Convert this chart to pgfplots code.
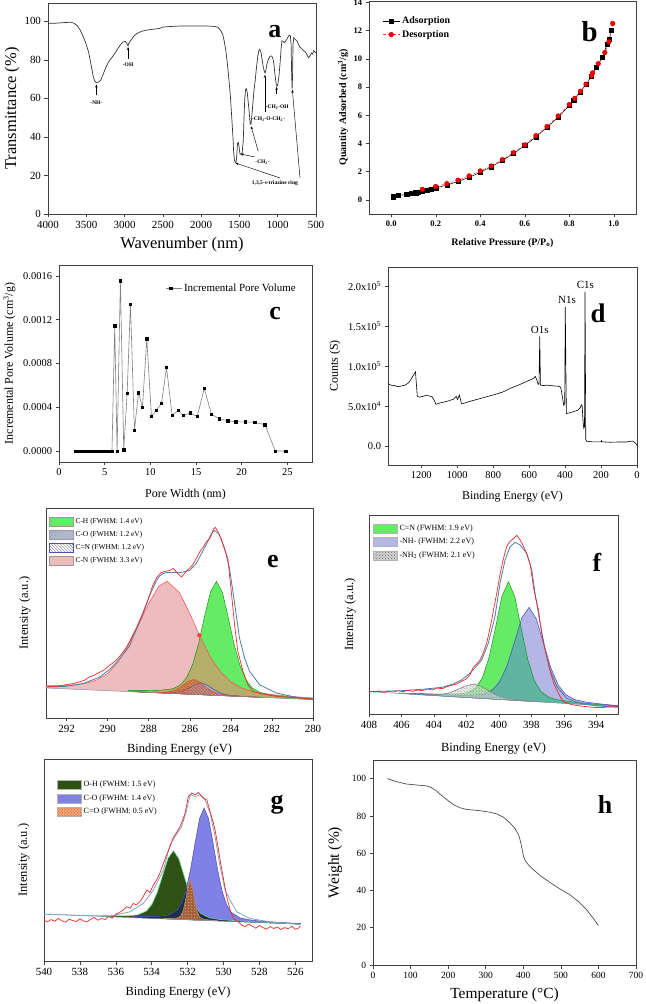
\documentclass[border=0pt]{standalone}
\usepackage{fontspec}
\setmainfont{Liberation Serif}
\usepackage{pgfplots}
\pgfplotsset{compat=1.18}
\usepackage{pgfplotstable}
\usetikzlibrary{patterns,arrows.meta}
\newcommand\fs[1]{\fontsize{#1}{#1}\selectfont}
\definecolor{egreen}{HTML}{66EB66}
\definecolor{epink}{HTML}{ECBCBE}
\definecolor{eolive}{HTML}{B4AE6A}
\definecolor{eco}{HTML}{9AA6CC}
\definecolor{envblue}{HTML}{4A7DA8}
\definecolor{rawred}{HTML}{EE2A2A}
\definecolor{flav}{HTML}{B4B6E6}
\definecolor{fteal}{HTML}{5FB5A2}
\definecolor{gdg}{HTML}{2E5214}
\definecolor{gblue}{HTML}{8080E6}
\definecolor{gnavy}{HTML}{1E3048}
\definecolor{gbrown}{HTML}{A2603E}
\definecolor{gsalmon}{HTML}{E8A482}
\definecolor{basecol}{HTML}{8090A8}

\pgfplotsset{
  panel/.style={
    scale only axis, anchor=south west,
    axis line style={draw=black!75, line width=0.6pt},
    tick style={draw=black!75, line width=0.5pt},
    tick align=outside, tick pos=left,
    major tick length=3.5bp,
    /pgf/number format/assume math mode=true,
    /pgf/number format/1000 sep={},
    tick label style={font=\fs{11}},
    label style={font=\fs{12.5}},
    scaled ticks=false,
  },
  patch/.style={legend image code/.code={\draw[##1] (0bp,-4.5bp) rectangle (24bp,4.5bp);}},
}

% ---------- panel e tables ----------
\pgfplotstableread{
x y
293 90
293 97.4
292.5 97.4
292 98.2
291.5 100.3
291 105.1
290.5 114.9
290 133.9
289.5 167
289 217
288.5 278.9
288 344
287.5 396.1
287.1 410.1
286.5 376.1
286 313.8
285.5 244.3
285 183.5
284.5 138.1
284 108.4
283.5 90.6
283 80.6
282.5 74.3
282 70.3
281.5 67.2
281 64.6
280.5 62.2
280 60.2
280 55
}\eCN
\pgfplotstableread{
x y
289 79.2
289 82
288.15 82.2
287.58 82.9
287 85.8
286.77 89.1
286.43 100.6
286.14 122.3
285.85 162.6
285.56 225.8
285.28 305.2
284.99 378.5
284.7 409.7
284.41 377
284.13 302.1
283.84 221.1
283.55 156.5
283.26 114.6
282.98 91.3
282.63 78
282.4 73.5
281.83 67.4
281.25 63.7
280 57.5
280 55
}\eCH
\pgfplotstableread{
x y
289 79.2
289 82
288.15 82.2
287.58 82.9
287 85.8
286.77 89.1
286.43 100.6
286.14 122.3
285.85 162.6
285.56 225.8
285.49 243
285.28 217.5
284.99 182.3
284.7 156.3
284.41 132.8
284.13 116.1
283.84 102.7
283.55 92.4
283.26 85.8
282.98 80.3
282.63 76
282.4 73.5
281.83 67.4
281.25 63.7
280 57.5
280 55
}\eOV
\pgfplotstableread{
x y
288.8 78.7
288.8 79.2
287.8 77.1
287.3 77
287 78.5
286.7 83.8
286.4 94.7
286.1 108.7
285.8 115.6
285.5 107.1
285.2 91.5
284.9 79
284.6 72.1
284.3 68.9
283.8 66.3
282.8 63
282.8 62.5
}\eCNd
\pgfplotstableread{
x y
288.45 77.75
288.45 78.2
287.45 76
286.95 75.5
286.65 76.6
286.35 80.7
286.05 89.3
285.75 100.3
285.45 105.7
285.15 98.7
284.85 86.1
284.55 75.9
284.25 70.2
283.95 67.5
283.45 65.2
282.45 62
282.45 61.6
}\eCO
\pgfplotstableread{
x y
293 93
292.8 95
292.5 94
292.2 98
292 100
291.7 103
291.4 108
291.1 114
290.9 123
290.7 127
290.4 137
290.2 143
289.9 158
289.6 172
289.4 186
289.1 210
288.9 233
288.6 270
288.3 313
288 360
287.8 398
287.6 422
287.4 436
287.2 440
287 442
286.8 449
286.6 434
286.4 423
286.2 438
286 450
285.85 460
285.65 482
285.5 500
285.35 512
285.2 528
285.05 537
284.95 548
284.85 566
284.76 572
284.6 555
284.45 532
284.3 505
284.15 480
283.98 380
283.82 280
283.66 200
283.41 140
283.17 100
282.93 80
282.6 74
282.28 70
281.9 66
281.46 63
281.1 62
280.65 60
280.3 58
280 57
}\eRAW
\pgfplotstableread{
x y
293 93
292.03 95
291.22 103
290.41 122
289.92 145
289.59 165
288.94 215
288.78 240
288.29 310
287.97 365
287.64 410
287.48 425
287.32 433
287.15 436
286.9 437
286.5 436
286.18 440
286 443
285.69 463
285.37 500
285.12 530
284.95 553
284.8 563
284.55 550
284.31 510
284.07 450
283.9 380
283.74 310
283.58 240
283.33 180
283.09 140
282.6 100
281.79 75
280.81 62
280 55
}\eENV

% ---------- panel f tables ----------
\pgfplotstableread{
x y
405.4 59.4
405.4 62
403.4 59.2
402.4 60.4
401.9 64.6
401.41 78.8
401.01 109.1
400.61 168.6
400.21 258.4
399.81 353.2
399.41 396.8
399.01 350.8
398.61 253.8
398.21 161.6
397.81 99.7
397.41 67
396.91 50
396.41 42.8
395.41 35.8
394.41 30.8
392.66 24.2
392.66 22
}\fCN
\pgfplotstableread{
x y
406.14 61.5
406.14 63.1
404.14 58.5
402.64 56.1
401.64 56.2
400.94 59.8
400.39 71.9
399.94 97.3
399.49 145.2
399.04 215.5
398.59 287.7
398.14 320.1
397.69 285.1
397.24 210.2
396.79 137.3
396.34 86.7
395.89 58.7
395.34 43.4
394.64 35.7
393.64 29.7
392.66 25.2
392.66 22
}\fNH
\pgfplotstableread{
x y
405.4 59.4
405.4 61.4
403.4 57.3
402.4 56.1
401.9 56.2
401.41 57
401.01 59.5
400.61 67
400.21 82
399.81 111
399.41 157.7
399.01 220
398.69 272
398.61 253.8
398.21 161.6
397.81 99.7
397.41 67
396.91 50
396.41 42.8
395.41 35.8
394.41 30.8
392.66 24.2
392.66 22
}\fOV
\pgfplotstableread{
x y
405.54 59.8
405.54 60.5
404.54 58.3
403.54 59
403.04 63.7
402.54 73.3
402.04 84.9
401.54 90
401.04 82
400.54 67.4
400.04 55
399.54 47.3
398.54 40.8
397.54 37
397.54 36.3
}\fNHH
\pgfplotstableread{
x y
408 68
407.7 66
407.4 69
407.1 65
406.8 68
406.5 66
406.2 70
405.9 67
405.6 71
405.3 68
405 72
404.7 70
404.4 75
404.1 72
403.8 78
403.5 76
403.2 82
402.9 86
402.6 90
402.3 98
402 105
401.78 118
401.58 140
401.37 150
401.16 162
400.95 185
400.75 212
400.6 245
400.44 282
400.29 322
400.13 362
399.98 405
399.83 442
399.67 475
399.52 502
399.36 515
399.21 522
399.05 528
398.9 536
398.8 530
398.69 522
398.53 508
398.38 492
398.23 472
398.08 452
397.97 415
397.87 382
397.72 345
397.56 312
397.46 275
397.36 242
397.2 205
397.05 172
396.9 140
396.74 112
396.6 90
396.43 72
396.2 50
396.02 37
395.7 31
395.4 27
395 24
394.58 22
394.2 20
393.75 19
393.3 21
392.66 22
}\fRAW
\pgfplotstableread{
x y
408 67
406 70
404.5 75
403.5 80
402.81 90
402.3 102
401.78 122
401.4 142
401.06 162
400.65 212
400.24 292
399.93 392
399.62 462
399.31 502
399 515
398.69 507
398.28 482
397.97 432
397.77 362
397.46 272
397.15 192
396.84 132
396.43 82
395.81 47
394.99 32
393.96 24
392.66 20
}\fENV

% ---------- panel g tables ----------
\pgfplotstableread{
x y
536.79 133.3
536.79 135.4
535.79 134.8
535.29 135.2
534.79 137.7
534.29 149.3
533.99 169
533.69 204.8
533.39 255.7
533.09 306.9
532.79 329.9
532.49 305.6
532.19 253.2
531.89 201.1
531.59 164
531.29 143
530.79 129.3
530.29 124.7
529.79 122.2
528.79 118.6
527.79 115.8
525.72 111
525.72 110
}\gOH
\pgfplotstableread{
x y
535.08 129.7
535.08 132.7
534.58 132.5
534.08 132.8
533.58 133.8
533.08 137.3
532.58 152.2
532.33 173.8
532.08 213.7
531.83 275.8
531.58 354.2
531.33 426.5
531.08 457.3
530.83 425.4
530.58 352.1
530.33 272.7
530.08 209.5
529.83 168.5
529.58 145.9
529.08 128.9
528.58 123.3
528.08 120.2
527.58 117.8
527.08 115.9
525.72 112.2
525.72 110
}\gCO
\pgfplotstableread{
x y
535.08 129.7
535.08 132.7
534.58 132.5
534.08 132.8
533.58 133.8
533.08 137.3
532.58 152.2
532.33 173.8
532.08 213.7
532.03 225
531.83 193.7
531.58 164
531.29 143
530.79 129.3
530.29 124.7
529.79 122.2
528.79 118.6
527.79 115.8
525.72 111
525.72 110
}\gOV
\pgfplotstableread{
x y
533.36 126.1
533.36 127.1
532.86 127.1
532.61 128.2
532.485 130.2
532.36 136.3
532.235 152.2
532.11 182.9
531.985 221.7
531.86 241.9
531.735 221.2
531.61 181.8
531.485 150.6
531.36 134.2
531.235 127.5
531.11 125
530.86 122.8
530.36 120.7
530.36 119.7
}\gCOd
\pgfplotstableread{
x y
540 122
539.8 117
539.6 124
539.4 119
539.2 127
539 120
538.8 116
538.6 125
538.4 121
538.2 118
538 126
537.8 120
537.6 117
537.4 125
537.2 130
537 122
536.8 127
536.6 124
536.4 133
536.2 128
536 140
535.8 145
535.6 152
535.4 162
535.2 158
535.03 172
534.85 168
534.66 177
534.5 190
534.28 212
534.1 205
533.91 227
533.73 242
533.55 262
533.35 292
533.15 320
532.98 342
532.79 370
532.6 385
532.42 402
532.28 420
532.14 442
531.96 492
531.77 502
531.58 497
531.4 504
531.21 492
531.05 485
530.93 482
530.75 447
530.6 420
530.47 392
530.33 350
530.19 302
530 245
529.82 192
529.63 152
529.44 127
529.3 122
529.16 117
528.98 107
528.8 103
528.6 110
528.4 104
528.2 98
528 106
527.8 100
527.6 95
527.4 103
527.2 97
527 102
526.8 94
526.6 100
526.4 96
526.2 104
526 95
525.8 99
525.72 105
}\gRAW
\pgfplotstableread{
x y
540 140
536.33 134
535.22 147
534.47 172
533.91 212
533.35 272
532.98 347
532.7 372
532.33 402
532.05 452
531.86 497
531.58 492
531.31 497
531.03 482
530.75 442
530.47 372
530.19 282
529.91 212
529.63 182
529.26 147
528.51 127
527.4 117
525.72 109
}\gENV

\begin{document}
\begin{tikzpicture}[x=1bp,y=1bp]
\useasboundingbox (0,0) rectangle (646,1004);

% ================= a =================
\begin{axis}[panel, at={(48bp,790bp)}, width=268bp, height=211bp,
  x dir=reverse, xmin=500, xmax=4000, ymin=0, ymax=109.5,
  xtick={500,1000,1500,2000,2500,3000,3500,4000}, ytick={0,20,40,60,80,100},
  xlabel={Wavenumber (nm)}, ylabel={Transmittance (\%)},
  label style={font=\fs{16.5}},
  xlabel style={at={(axis description cs:0.5,-0.147)}, anchor=center},
  ylabel style={at={(axis description cs:-0.134,0.5)}, anchor=center}]
\addplot[black!80, line width=0.7pt] coordinates {
(4000,98.9) (3900,99.0) (3800,99.3) (3700,99.5) (3660,99.0) (3620,97.8) (3580,95.5)
(3540,92.0) (3500,88.0) (3470,84.0) (3440,78.0) (3410,71.5) (3390,69.0) (3370,68.2)
(3340,68.4) (3310,69.5) (3280,72.5) (3240,76.5) (3200,79.5) (3150,82.0) (3100,85.0)
(3060,87.5) (3020,89.3) (2990,89.5) (2970,88.5) (2955,87.2) (2945,88.5) (2920,90.0)
(2880,92.2) (2840,93.6) (2780,94.8) (2700,95.5) (2600,96.0) (2540,96.3) (2500,97.0)
(2400,97.3) (2300,97.5) (2200,97.6) (2100,97.6) (2000,97.6) (1900,97.5) (1820,97.3)
(1780,96.8) (1750,95.5) (1720,93.5) (1700,90.0) (1680,85.5) (1660,79.0) (1640,71.0)
(1620,62.0) (1600,50.0) (1585,40.0) (1575,32.0) (1565,28.0) (1555,26.8) (1545,26.5)
(1535,30.0) (1525,36.5) (1515,37.2) (1505,35.0) (1495,31.5) (1480,31.0) (1465,31.5)
(1450,38.0) (1440,50.0) (1430,60.0) (1420,64.5) (1410,65.0) (1400,63.5) (1390,60.0)
(1375,54.0) (1360,47.0) (1350,46.5) (1340,50.0) (1325,57.0) (1310,64.0) (1295,69.0)
(1280,75.0) (1260,82.0) (1245,85.0) (1235,85.5) (1220,84.0) (1205,80.5) (1190,76.5)
(1175,74.0) (1165,73.2) (1155,74.5) (1140,78.0) (1120,80.5) (1100,81.8) (1080,82.0)
(1065,81.0) (1050,78.0) (1035,72.0) (1020,67.5) (1010,66.3) (1000,67.0) (985,71.0)
(970,78.0) (955,86.0) (945,89.8) (930,89.5) (910,89.0) (890,90.0) (870,91.5)
(850,92.8) (835,92.5) (825,88.0) (818,72.0) (812,65.0) (806,72.0) (800,88.0)
(790,91.5) (770,90.5) (750,90.0) (730,88.0) (710,86.5) (690,86.0) (670,85.0)
(650,84.5) (630,83.5) (610,82.0) (595,81.0) (580,82.0) (560,83.5) (545,83.0)
(530,84.8) (515,84.0) (500,83.8)};
\begin{scope}[line width=0.45pt, -{Stealth[length=3bp,width=2.4bp]}]
\draw (axis cs:3368,61.5) -- (axis cs:3368,67.2);
\draw (axis cs:2954,80.5) -- (axis cs:2954,86.6);
\draw (axis cs:1167,53) -- (axis cs:1167,72.2);
\draw (axis cs:1014,62.5) -- (axis cs:1014,66);
\draw (axis cs:1254,32.5) -- (axis cs:1348,45.5);
\draw (axis cs:1300,29.6) -- (axis cs:1485,31.1);
\draw (axis cs:970,18.7) -- (axis cs:1550,26.4);
\draw (axis cs:709,18.7) -- (axis cs:809,64.5);
\end{scope}
\node[font=\fs{5.5}\bfseries] at (axis cs:3368,58) {-NH-};
\node[font=\fs{5.5}\bfseries] at (axis cs:2954,77.4) {-OH};
\node[font=\fs{5.5}\bfseries, anchor=west, inner sep=0.5bp] at (axis cs:1165,55.4) {-CH\textsubscript{2}-OH};
\node[font=\fs{5.5}\bfseries, anchor=west, inner sep=0.5bp] at (axis cs:1345,49.2) {-CH\textsubscript{2}-O-CH\textsubscript{2}-};
\node[font=\fs{5.5}\bfseries, anchor=west, inner sep=0.5bp] at (axis cs:1300,26.8) {-CH\textsubscript{2}-};
\node[font=\fs{5.5}\bfseries, anchor=west, inner sep=0.5bp] at (axis cs:1345,16.1) {1,3,5-s-triazine ring};
\node[font=\bfseries\fs{26}] at (axis cs:1036,94.6) {a};
\end{axis}

% ================= b =================
\begin{axis}[panel, at={(369bp,790bp)}, width=267bp, height=213bp,
  xmin=-0.1, xmax=1.1, ymin=-1, ymax=14.1,
  xtick={0,0.2,0.4,0.6,0.8,1.0}, ytick={0,2,4,6,8,10,12,14},
  xticklabel style={/pgf/number format/.cd, fixed, fixed zerofill, precision=1},
  tick label style={font=\bfseries\fs{8.5}},
  label style={font=\bfseries\fs{10}},
  xlabel={Relative Pressure (P/P\textsubscript{o})},
  ylabel={Quantity Adsorbed (cm\textsuperscript{3}/g)},
  xlabel style={at={(axis description cs:0.5,-0.136)}, anchor=center},
  ylabel style={at={(axis description cs:-0.097,0.5)}, anchor=center},
  legend style={at={(axis description cs:0.05,0.935)}, anchor=north west, draw=none, fill=none,
    font=\bfseries\fs{10}, inner sep=0pt, row sep=1bp},
  legend cell align=left]
\addplot[black, line width=0.5pt, mark=square*, mark size=2.1bp, mark options={solid}] coordinates {
(0.01,0.22) (0.03,0.30) (0.07,0.40) (0.09,0.45) (0.11,0.50) (0.12,0.55) (0.14,0.60)
(0.16,0.68) (0.18,0.75) (0.20,0.85) (0.25,1.05) (0.30,1.30) (0.35,1.60) (0.40,1.95)
(0.45,2.35) (0.50,2.80) (0.55,3.30) (0.60,3.85) (0.65,4.45) (0.70,5.15) (0.75,5.85)
(0.80,6.70) (0.82,7.05) (0.85,7.65) (0.875,8.20) (0.90,8.75) (0.92,9.40) (0.95,10.10)
(0.97,11.05) (0.98,11.40) (0.99,12.05)};
\addlegendentry{Adsorption}
\addplot[red!80!white, line width=0.5pt, densely dashed, mark=*, mark size=2.3bp, mark options={solid, fill=red, draw=red!80!black}] coordinates {
(0.995,12.50) (0.978,11.20) (0.96,10.45) (0.93,9.65) (0.905,9.00) (0.90,8.80) (0.875,8.20)
(0.85,7.70) (0.825,7.20) (0.80,6.75) (0.75,5.95) (0.70,5.20) (0.65,4.55) (0.60,3.90)
(0.55,3.35) (0.50,2.85) (0.45,2.40) (0.40,2.05) (0.35,1.70) (0.30,1.40) (0.25,1.15)
(0.20,0.95) (0.14,0.75)};
\addlegendentry{Desorption}
\node[font=\bfseries\fs{29}] at (axis cs:0.892,11.9) {b};
\end{axis}

% ================= c =================
\begin{axis}[panel, at={(59bp,542bp)}, width=253bp, height=197bp,
  xmin=0, xmax=27.7, ymin=-0.0001, ymax=0.0017,
  xtick={0,5,10,15,20,25}, ytick={0,0.0004,0.0008,0.0012,0.0016},
  yticklabel style={/pgf/number format/.cd, fixed, fixed zerofill, precision=4},
  tick label style={font=\fs{10.5}},
  label style={font=\fs{12}},
  xlabel={Pore Width (nm)}, ylabel={Incremental Pore Volume (cm\textsuperscript{3}/g)},
  xlabel style={at={(axis description cs:0.5,-0.168)}, anchor=center},
  ylabel style={at={(axis description cs:-0.196,0.5)}, anchor=center},
  legend style={at={(axis description cs:0.42,0.915)}, anchor=north west, draw=none, fill=none,
    font=\fs{11}, inner sep=0pt},
  legend image code/.code={\draw[mark repeat=2, mark phase=2, #1] plot coordinates {(0bp,0bp) (5bp,0bp) (16bp,0bp)};}]
\addplot[gray, line width=0.6pt, mark=square*, mark size=1.2bp, mark options={black, solid}] coordinates {
(1.8,0) (2.0,0) (2.2,0) (2.4,0) (2.6,0) (2.8,0) (3.0,0) (3.2,0) (3.4,0) (3.6,0) (3.8,0)
(4.0,0) (4.2,0) (4.4,0) (4.6,0) (4.8,0) (5.0,0) (5.2,0) (5.4,0) (5.6,0) (5.8,0)
(6.1,0.001145) (6.36,0) (6.72,0.001557) (7.09,0.00001) (7.46,0.000525) (7.82,0.001343)
(8.26,0.000189) (8.70,0.000531) (9.14,0.0004) (9.61,0.001026) (10.12,0.000318)
(10.64,0.000372) (11.22,0.000434) (11.77,0.000763) (12.39,0.000327) (13.05,0.00037)
(13.63,0.000324) (14.36,0.000348) (15.13,0.000315) (15.9,0.000571) (16.70,0.000336)
(17.58,0.000293) (18.46,0.000278) (19.37,0.000266) (20.39,0.000266) (21.42,0.000263)
(22.55,0.000241) (23.68,0) (24.85,0)};
\addlegendentry{Incremental Pore Volume}
\node[font=\bfseries\fs{26}] at (axis cs:23.65,0.001258) {c};
\end{axis}

% ================= d =================
\begin{axis}[panel, at={(388bp,539bp)}, width=249bp, height=198bp,
  x dir=reverse, xmin=0, xmax=1385, ymin=-24000, ymax=224000,
  xtick={0,200,400,600,800,1000,1200}, ytick={0,50000,100000,150000,200000},
  yticklabels={0.0, 5.0x10\textsuperscript{4}, 1.0x10\textsuperscript{5}, 1.5x10\textsuperscript{5}, 2.0x10\textsuperscript{5}},
  tick label style={font=\fs{10.5}},
  label style={font=\fs{12}},
  xlabel={Binding Energy (eV)}, ylabel={Counts (S)},
  xlabel style={at={(axis description cs:0.5,-0.16)}, anchor=center},
  ylabel style={at={(axis description cs:-0.213,0.5)}, anchor=center}]
\addplot[black, line width=0.6pt] coordinates {
(1385,78000) (1370,76000) (1350,75500) (1330,74000) (1310,75000) (1290,76000) (1270,79000)
(1255,84000) (1240,90000) (1232,92500) (1228,80000) (1222,62000) (1210,61000) (1190,62000)
(1170,63500) (1150,62000) (1140,61500) (1128,57000) (1118,52000) (1100,53500) (1080,54500)
(1060,55500) (1040,57000) (1020,58500) (1006,62000) (998,58000) (988,63500) (982,58000)
(976,52500) (960,53500) (940,55000) (900,57500) (860,60000) (820,62500) (780,65000)
(740,68000) (700,72500) (660,76000) (620,80000) (590,83000) (575,84500) (566,87000)
(558,83000) (550,77000) (545,77500) (541,137000) (537,76000) (520,75500) (500,76000)
(460,75000) (430,74500) (423,72000) (415,61400) (408,51000) (402,53000) (399,174000)
(393,40500) (370,41500) (356,42600) (330,44500) (315,48000) (310,51500) (305,50000)
(300,30000) (296,22000) (292,24000) (289,193000) (285,8000) (280,5800) (250,5000)
(200,5000) (198,6500) (195,5000) (150,4500) (100,4800) (60,4800) (40,5500) (25,6000)
(15,4500) (5,2500) (0,500)};
\node[font=\fs{11}] at (axis cs:541,145700) {O1s};
\node[font=\fs{11}] at (axis cs:389,182400) {N1s};
\node[font=\fs{11}] at (axis cs:287,202000) {C1s};
\node[font=\bfseries\fs{27}] at (axis cs:217,165700) {d};
\end{axis}

% ================= e =================
\begin{axis}[panel, at={(46bp,286bp)}, width=267bp, height=210bp,
  x dir=reverse, xmin=280, xmax=293, ymin=0, ymax=630,
  xtick={280,282,284,286,288,290,292}, ytick=\empty,
  label style={font=\fs{12.5}},
  xlabel={Binding Energy (eV)}, ylabel={Intensity (a.u.)},
  xlabel style={at={(axis description cs:0.5,-0.152)}, anchor=center},
  ylabel style={at={(axis description cs:-0.079,0.5)}, anchor=center},
  legend style={at={(axis description cs:0.011,0.962)}, anchor=north west, draw=none, fill=none,
    font=\fs{7.5}, inner sep=0pt, row sep=2.5bp},
  legend cell align=left]
\addlegendimage{patch, fill=egreen, draw=black!40}
\addlegendentry{C-H (FWHM: 1.4 eV)}
\addlegendimage{patch, fill=eco, draw=black!40, postaction={pattern=north east lines, pattern color=white!70!gray}}
\addlegendentry{C-O (FWHM: 1.2 eV)}
\addlegendimage{patch, fill=white, draw=blue!40!gray, postaction={pattern=north west lines, pattern color=gray}}
\addlegendentry{C=N (FWHM: 1.2 eV)}
\addlegendimage{patch, fill=epink, draw=black!40}
\addlegendentry{C-N (FWHM: 3.3 eV)}
\addplot[fill=epink, draw=none, forget plot] table {\eCN} -- cycle;
\addplot[fill=egreen, draw=none, forget plot] table {\eCH} -- cycle;
\addplot[fill=eolive, draw=none, forget plot] table {\eOV} -- cycle;
\addplot[green!55!black, line width=0.4pt, forget plot] table {\eCH};
\addplot[red!70!white, line width=0.5pt, forget plot] table {\eCN};
\addplot[fill=eco, fill opacity=0.8, draw=blue!40!gray, line width=0.3pt, postaction={pattern=north east lines, pattern color=gray!60}, forget plot] table {\eCO} -- cycle;
\addplot[fill=none, draw=brown!70!red, line width=0.3pt, postaction={pattern=crosshatch, pattern color=brown!60!red}, forget plot] table {\eCNd} -- cycle;
\addplot[basecol, line width=0.5pt, forget plot] coordinates {(293,90) (280,55)};
\addplot[envblue, line width=0.8pt, forget plot] table {\eENV};
\addplot[rawred, line width=0.7pt, forget plot] table {\eRAW};
\addplot[only marks, mark=*, mark size=2bp, mark options={fill=red!75!white, draw=red!75!white}, forget plot] coordinates {(285.53,248)};
\node[font=\bfseries\fs{26}] at (axis cs:281.95,470) {e};
\end{axis}

% ================= f =================
\begin{axis}[panel, at={(369bp,290bp)}, width=249bp, height=199bp,
  x dir=reverse, xmin=392.66, xmax=408, ymin=0, ymax=597,
  xtick={394,396,398,400,402,404,406,408}, ytick=\empty,
  label style={font=\fs{12.5}},
  xlabel={Binding Energy (eV)}, ylabel={Intensity (a.u.)},
  xlabel style={at={(axis description cs:0.5,-0.171)}, anchor=center},
  ylabel style={at={(axis description cs:-0.076,0.5)}, anchor=center},
  legend style={at={(axis description cs:0.016,0.96)}, anchor=north west, draw=none, fill=none,
    font=\fs{8}, inner sep=0pt, row sep=2.3bp},
  legend cell align=left]
\addlegendimage{patch, fill=egreen, draw=black!30}
\addlegendentry{C=N (FWHM: 1.9 eV)}
\addlegendimage{patch, fill=flav, draw=black!30}
\addlegendentry{-NH- (FWHM: 2.2 eV)}
\addlegendimage{patch, fill=gray!35, draw=black!30, postaction={pattern=crosshatch dots, pattern color=gray!80!black}}
\addlegendentry{-NH\textsubscript{2} (FWHM: 2.1 eV)}
\addplot[fill=egreen, draw=none, forget plot] table {\fCN} -- cycle;
\addplot[fill=flav, draw=none, forget plot] table {\fNH} -- cycle;
\addplot[fill=fteal, draw=none, forget plot] table {\fOV} -- cycle;
\addplot[green!55!black, line width=0.4pt, forget plot] table {\fCN};
\addplot[blue!45!gray, line width=0.5pt, forget plot] table {\fNH};
\addplot[fill=gray!25, fill opacity=0.6, draw=gray, line width=0.3pt, postaction={pattern=crosshatch dots, pattern color=gray!70!black}, forget plot] table {\fNHH} -- cycle;
\addplot[basecol, line width=0.5pt, forget plot] coordinates {(408,67) (392.66,22)};
\addplot[envblue, line width=0.8pt, forget plot] table {\fENV};
\addplot[rawred, line width=0.7pt, forget plot] table {\fRAW};
\node[font=\bfseries\fs{26}] at (axis cs:393.96,454) {f};
\end{axis}

% ================= g =================
\begin{axis}[panel, at={(44bp,43bp)}, width=268bp, height=202bp,
  x dir=reverse, xmin=525.07, xmax=540, ymin=0, ymax=604,
  xtick={526,528,530,532,534,536,538,540}, ytick=\empty,
  label style={font=\fs{12.5}},
  xlabel={Binding Energy (eV)}, ylabel={Intensity (a.u.)},
  xlabel style={at={(axis description cs:0.5,-0.158)}, anchor=center},
  ylabel style={at={(axis description cs:-0.075,0.5)}, anchor=center},
  legend style={at={(axis description cs:0.049,0.9)}, anchor=north west, draw=none, fill=none,
    font=\fs{8}, inner sep=0pt, row sep=2.4bp},
  legend cell align=left]
\addlegendimage{patch, fill=gdg, draw=black!30}
\addlegendentry{O-H (FWHM: 1.5 eV)}
\addlegendimage{patch, fill=gblue, draw=black!30}
\addlegendentry{C-O (FWHM: 1.4 eV)}
\addlegendimage{patch, fill=gsalmon, draw=black!30, postaction={pattern=crosshatch dots, pattern color=orange!70!red}}
\addlegendentry{C=O (FWHM: 0.5 eV)}
\addplot[fill=gdg, draw=none, forget plot] table {\gOH} -- cycle;
\addplot[fill=gblue, draw=none, forget plot] table {\gCO} -- cycle;
\addplot[fill=gnavy, draw=none, forget plot] table {\gOV} -- cycle;
\addplot[teal!50!green!60!white, line width=0.6pt, forget plot] table {\gOH};
\addplot[blue!40!gray, line width=0.5pt, forget plot] table {\gCO};
\addplot[fill=gbrown, draw=gbrown!70!white, line width=0.3pt, postaction={pattern=dots, pattern color=orange!60!white}, forget plot] table {\gCOd} -- cycle;
\addplot[basecol, line width=0.5pt, forget plot] coordinates {(540,140) (525.72,110)};
\addplot[envblue!70!white, line width=0.8pt, forget plot] table {\gENV};
\addplot[rawred, line width=0.7pt, forget plot] table {\gRAW};
\node[font=\bfseries\fs{26}] at (axis cs:527.02,467) {g};
\end{axis}

% ================= h =================
\begin{axis}[panel, at={(373bp,39bp)}, width=263bp, height=205bp,
  xmin=0, xmax=700, ymin=0, ymax=110,
  xtick={0,100,200,300,400,500,600,700}, ytick={0,20,40,60,80,100},
  tick label style={font=\fs{9.5}},
  label style={font=\fs{15.5}},
  xlabel={Temperature (°C)}, ylabel={Weight (\%)},
  xlabel style={at={(axis description cs:0.5,-0.146)}, anchor=center},
  ylabel style={at={(axis description cs:-0.144,0.5)}, anchor=center}]
\addplot[black!70, line width=0.7pt] coordinates {
(38.2,100) (62.2,98.4) (88.8,97.1) (115.5,96.6) (142.1,96.1) (155.5,95.2) (168.8,93.4)
(182.1,91.0) (195.4,88.9) (213.2,86.2) (231,84.4) (248.7,83.5) (284.3,82.8) (311,82.0)
(328.7,81.1) (346.4,79.4) (364.2,76.3) (377.5,73.4) (388.2,69.5) (393.5,65.5) (397.1,61.9)
(400.6,58.3) (405.1,56.0) (413.1,53.9) (426.4,51.2) (444.2,48.1) (470.8,44.3) (497.5,40.8)
(524.1,37.7) (546.3,34.1) (568.5,29.6) (586.3,25.1) (599.6,21.2)};
\node[font=\bfseries\fs{26}] at (axis cs:617.4,86.2) {h};
\end{axis}
\end{tikzpicture}
\end{document}
